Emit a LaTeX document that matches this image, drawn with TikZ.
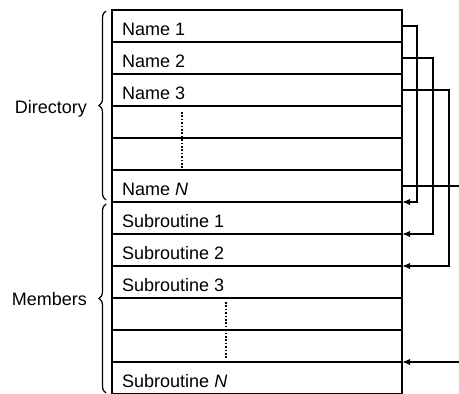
\documentclass[tikz,border=0pt]{standalone}
\usepackage{fontspec}
\setmainfont{Liberation Sans}
\usetikzlibrary{arrows.meta,decorations.pathreplacing}
\begin{document}
\begin{tikzpicture}[x=1pt,y=-1pt,
  rowbox/.style={draw, line width=1.5pt, minimum width=290pt, minimum height=32pt, inner sep=0pt, outer sep=0pt},
  rowtext/.style={anchor=base west, inner sep=0pt, font=\fontsize{18}{20}\selectfont},
  conn/.style={line width=2.4pt},
  arr/.style={conn, -{Latex[length=8pt,width=6.5pt]}},
  dots/.style={line width=1.6pt, dash pattern=on 1.6pt off 1.8pt},
  bracestyle/.style={line width=1.2pt, decorate, decoration={brace, amplitude=7pt}},
  grouplabel/.style={anchor=base east, inner sep=0pt, font=\fontsize{18}{20}\selectfont}]
\useasboundingbox (0,0) rectangle (459,394);
% rows
\node[rowbox, anchor=north west] (r1) at (112,10) {};
\node[rowbox, anchor=north] (r2) at (r1.south) {};
\node[rowbox, anchor=north] (r3) at (r2.south) {};
\node[rowbox, anchor=north] (r4) at (r3.south) {};
\node[rowbox, anchor=north] (r5) at (r4.south) {};
\node[rowbox, anchor=north] (r6) at (r5.south) {};
\node[rowbox, anchor=north] (r7) at (r6.south) {};
\node[rowbox, anchor=north] (r8) at (r7.south) {};
\node[rowbox, anchor=north] (r9) at (r8.south) {};
\node[rowbox, anchor=north] (r10) at (r9.south) {};
\node[rowbox, anchor=north] (r11) at (r10.south) {};
\node[rowbox, anchor=north] (r12) at (r11.south) {};
% texts
\node[rowtext] (t1) at ([xshift=10pt,yshift=7pt]r1.south west) {Name 1};
\node[rowtext] (t2) at ([xshift=10pt,yshift=7pt]r2.south west) {Name 2};
\node[rowtext] (t3) at ([xshift=10pt,yshift=7pt]r3.south west) {Name 3};
\node[rowtext] (t6) at ([xshift=10pt,yshift=7pt]r6.south west) {Name \textit{N}};
\node[rowtext] (t7) at ([xshift=10pt,yshift=7pt]r7.south west) {Subroutine 1};
\node[rowtext] (t8) at ([xshift=10pt,yshift=7pt]r8.south west) {Subroutine 2};
\node[rowtext] (t9) at ([xshift=10pt,yshift=7pt]r9.south west) {Subroutine 3};
\node[rowtext] (t12) at ([xshift=10pt,yshift=7pt]r12.south west) {Subroutine \textit{N}};
% dotted continuation
\draw[dots] (182,112) -- (182,168);
\draw[dots] (226,302) -- (226,358);
% connectors
\draw[arr] (r1.east) -- (417,26) |- (r7.north east);
\draw[arr] (r2.east) -- (433,58) |- (r8.north east);
\draw[arr] (r3.east) -- (449,90) |- (r9.north east);
\coordinate (outN) at (459,186);
\coordinate (inN) at (459,362);
\draw[conn] (r6.east) -- (outN);
\draw[arr] (inN) -- (r12.north east);
% braces
\draw[bracestyle] (106,200) -- (106,11);
\draw[bracestyle] (106,393) -- (106,204);
\node[grouplabel] (dir) at (87,113) {Directory};
\node[grouplabel] (mem) at (87,305) {Members};
\end{tikzpicture}
\end{document}
